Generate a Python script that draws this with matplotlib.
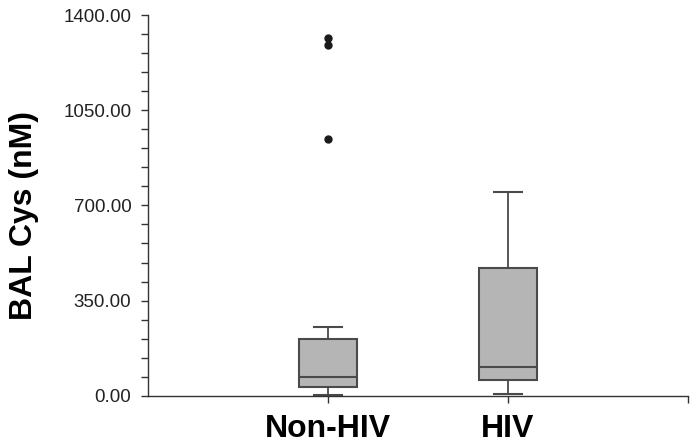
import matplotlib
matplotlib.use("Agg")
import matplotlib.pyplot as plt
from matplotlib.ticker import MultipleLocator, FormatStrFormatter

plt.rcParams['font.family'] = ['Liberation Sans', 'DejaVu Sans']

groups = ['Non-HIV', 'HIV']
whislo = [3, 7]
q1 = [31, 57]
med = [70, 106]
q3 = [209, 471]
whishi = [252, 749]
fliers = [[1318, 1293, 946], []]

stats = []
for i in range(len(groups)):
    stats.append(dict(label=groups[i], whislo=whislo[i], q1=q1[i], med=med[i],
                      q3=q3[i], whishi=whishi[i], fliers=fliers[i]))

fig = plt.figure(figsize=(6.95, 4.46), dpi=100)
ax = fig.add_axes([148/695, 1-395.5/446, 540/695, 380/446])

edge = '#4a4a4a'
ax.bxp(stats, positions=[1, 2], widths=0.32, capwidths=0.16, patch_artist=True,
       boxprops=dict(facecolor='#b5b5b5', edgecolor=edge, linewidth=1.5),
       medianprops=dict(color=edge, linewidth=1.5),
       whiskerprops=dict(color=edge, linewidth=1.3),
       capprops=dict(color=edge, linewidth=1.5),
       flierprops=dict(marker='o', markerfacecolor='#1a1a1a', markeredgecolor='#1a1a1a',
                       markersize=5))

ax.set_xlim(0, 3)
ax.set_ylim(0, 1400)
ax.set_xticks([1, 2, 3])
ax.set_xticklabels(['Non-HIV', 'HIV', ''], fontsize=23, fontweight='bold')
ax.yaxis.set_major_locator(MultipleLocator(350))
ax.yaxis.set_minor_locator(MultipleLocator(70))
ax.yaxis.set_major_formatter(FormatStrFormatter('%.2f'))
ax.tick_params(axis='y', which='both', length=5, width=1, color='#333333',
               labelsize=13.5, labelcolor='#222222', pad=7)
ax.tick_params(axis='x', length=5, width=1, color='#333333', pad=8)

for s in ['top', 'right']:
    ax.spines[s].set_visible(False)
for s in ['left', 'bottom']:
    ax.spines[s].set_color('#333333')
    ax.spines[s].set_linewidth(1)

fig.text(24/695, 1-216/446, 'BAL Cys (nM)', rotation=90, ha='center', va='center',
         fontsize=23, fontweight='bold')

fig.savefig('out.png', dpi=100)
